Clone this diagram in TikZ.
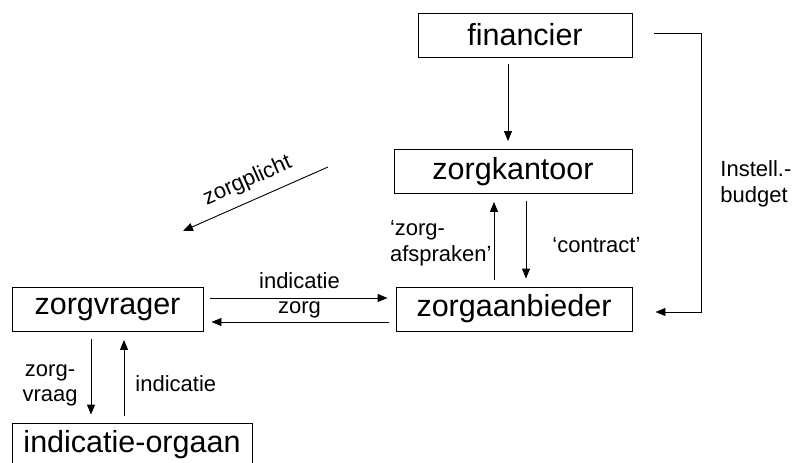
\documentclass[tikz,border=0pt]{standalone}
\usepackage{fontspec}
\setmainfont{Liberation Sans}
\usepackage{tikz}
\usetikzlibrary{arrows.meta,shapes}
\tikzstyle{box}=[draw,line width=0.9pt,inner sep=0pt,minimum height=44pt,font=\fontsize{30.5}{33}\selectfont]
\tikzstyle{arrow} = [draw,line width=0.9pt,-{Triangle[length=10pt,width=8pt]},shorten <=7pt,shorten >=8pt]
\tikzstyle{lbl} = [inner sep=0pt,font=\fontsize{22}{25.5}\selectfont]

\begin{document}
\begin{tikzpicture}[x=1pt,y=-1pt]
   \useasboundingbox (0,0) rectangle (793,463);
   \foreach \pos/\name/\txt/\w in {{(525,35)/fin/financier/214}, {(513,171.5)/kantoor/zorgkantoor/238},
        {(514,309)/aanbieder/zorgaanbieder/236}, {(107.5,309.5)/vrager/zorgvrager/191}, {(132,445)/orgaan/indicatie-orgaan/240}}
        \node[box,minimum width=\w pt] (\name) at \pos {\txt};
    \coordinate (zp1) at (328,167);
    \coordinate (zp2) at (183,231);
    \path[arrow] (fin.south -| 508,0) -- (kantoor.north -| 508,0);
    \path[arrow] (aanbieder.north -| 494,0) -- node[lbl,left=2pt,pos=0.47,align=left] {‘zorg-\\afspraken’} (kantoor.south -| 494,0);
    \path[arrow] (kantoor.south -| 526,0) -- node[lbl,right=26pt,pos=0.55] {‘contract’} (aanbieder.north -| 526,0);
    \path[arrow] (vrager.east |- 0,298) -- node[lbl,above=9pt] {indicatie} (aanbieder.west |- 0,298);
    \path[arrow] (aanbieder.west |- 0,322) -- node[lbl,above=3.5pt] {zorg} (vrager.east |- 0,322);
    \path[arrow] (vrager.south -| 91,0) -- node[lbl,left=13pt,pos=0.59,align=center] {zorg-\\vraag} (orgaan.north -| 91,0);
    \path[arrow] (orgaan.north -| 124,0) -- node[lbl,right=11pt,pos=0.43] {indicatie} (vrager.south -| 124,0);
    \path[arrow,shorten <=22pt,shorten >=23pt] (fin.east |- 0,33) -- (701,33)
        -- node[lbl,right=19pt,pos=0.54,align=left] {Instell.-\\budget} (701,312) -- (aanbieder.east |- 0,312);
    \path[arrow,shorten <=0pt,shorten >=0pt] (zp1) -- node[lbl,sloped,above=9pt] {zorgplicht} (zp2);
\end{tikzpicture}
\end{document}
